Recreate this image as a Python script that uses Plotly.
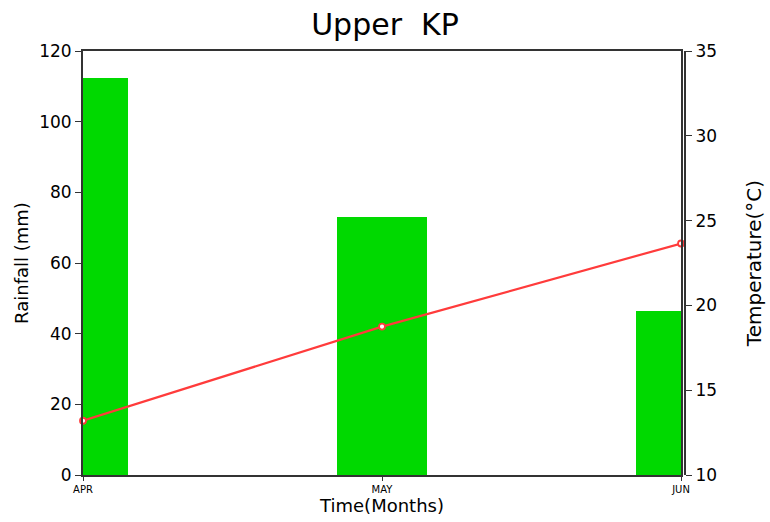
import plotly.graph_objects as go

months = ["APR", "MAY", "JUN"]
rainfall = [112.3, 73.0, 46.4]
temperature = [13.2, 18.75, 23.65]

font = "DejaVu Sans"
axcol = "#333333"

fig = go.Figure()
fig.add_trace(go.Bar(x=months, y=rainfall, marker_color="#00d900", width=0.3,
                     marker_line_width=0, yaxis="y", showlegend=False))
fig.add_trace(go.Scatter(x=months, y=temperature, mode="lines+markers", yaxis="y2",
                         line=dict(color="#ff3b3b", width=2.2),
                         marker=dict(symbol="circle", size=6, color="white",
                                     line=dict(color="#ff3b3b", width=1.8)),
                         cliponaxis=False, showlegend=False))

fig.update_layout(
    width=770, height=522,
    margin=dict(l=83, r=85, t=51, b=47),
    plot_bgcolor="white", paper_bgcolor="white",
    title=dict(text="Upper  KP", x=0.5, xanchor="center", y=0.953, yanchor="middle",
               font=dict(family=font, size=30, color="black")),
    xaxis=dict(domain=[0, 0.9934], range=[0, 2], showline=True, mirror=True,
               linecolor=axcol, linewidth=2, ticks="outside", ticklen=4,
               tickcolor=axcol, tickfont=dict(family=font, size=10, color="black"),
               showgrid=False, zeroline=False, automargin=False,
               title=dict(text="Time(Months)", standoff=4,
                          font=dict(family=font, size=18, color="black"))),
    yaxis=dict(range=[0, 120], dtick=20, showline=True, mirror=True,
               linecolor=axcol, linewidth=2, ticks="outside", ticklen=6,
               tickcolor=axcol, tickfont=dict(family=font, size=17, color="black"),
               showgrid=False, zeroline=False, automargin=False,
               title=dict(text="Rainfall (mm)", standoff=6,
                          font=dict(family=font, size=18, color="black"))),
    yaxis2=dict(range=[10, 35], dtick=5, overlaying="y", side="right",
                anchor="free", position=1, showline=True,
                linecolor=axcol, linewidth=2, ticks="outside", ticklen=6,
                tickcolor=axcol, tickfont=dict(family=font, size=17, color="black"),
                showgrid=False, zeroline=False, automargin=False,
                title=dict(text="Temperature(°C)", standoff=30,
                           font=dict(family=font, size=20, color="black"))),
    bargap=0,
)

fig.write_html("out.html", config={"displayModeBar": False},
               post_script="document.body.style.margin='0';")
